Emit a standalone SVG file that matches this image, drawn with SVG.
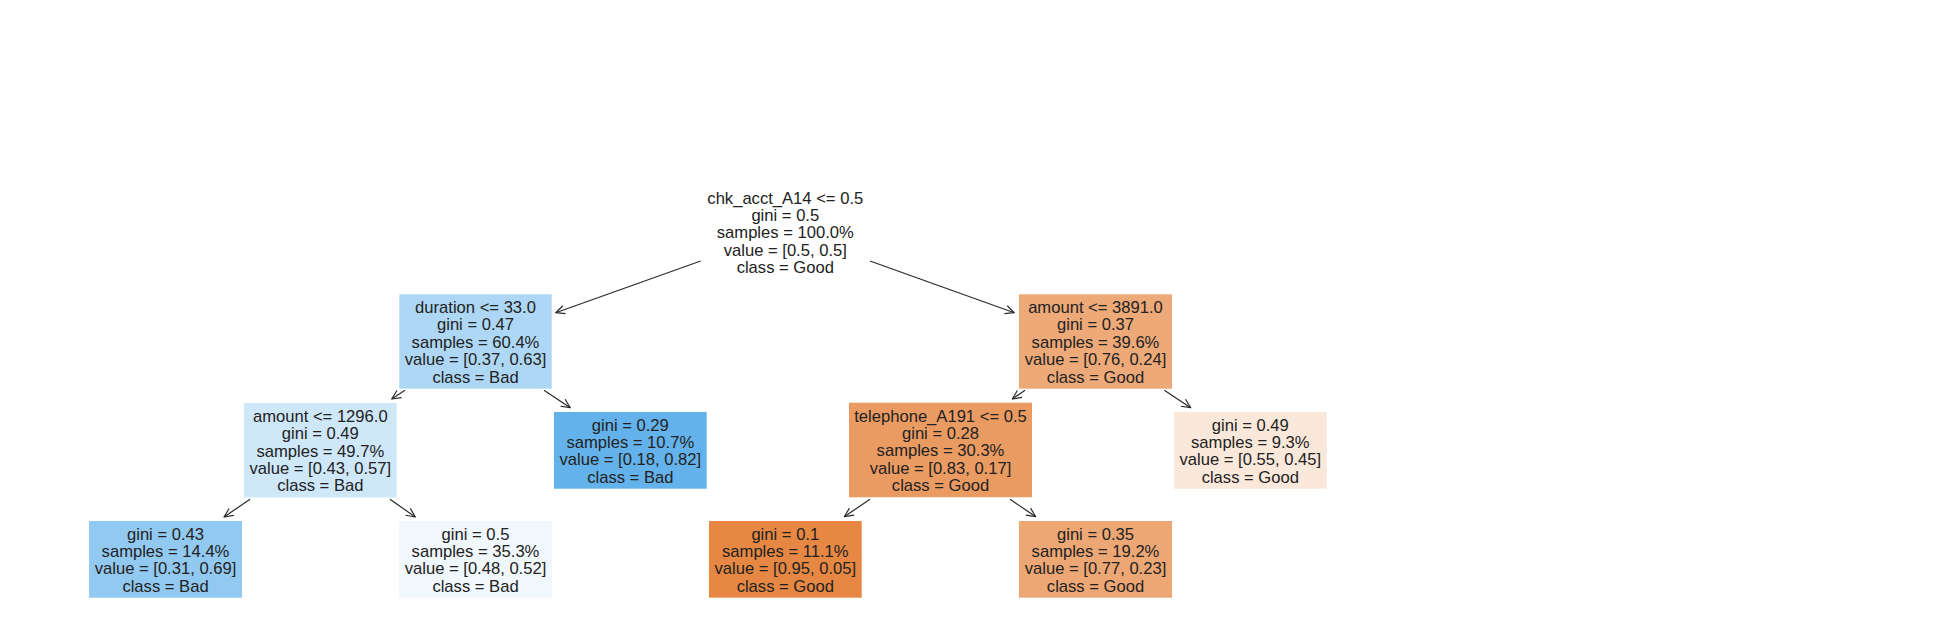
<svg xmlns="http://www.w3.org/2000/svg" width="1957" height="623" viewBox="0 0 1957 623">
<style>
text{font-family:"Liberation Sans",Arial,sans-serif;font-size:16.6px;fill:#222222;text-anchor:middle}
.edge{stroke:#2a2a2a;stroke-width:1.2;fill:none;marker-end:url(#ah)}
</style>
<defs>
<marker id="ah" markerUnits="userSpaceOnUse" markerWidth="14" markerHeight="12" viewBox="-12 -6 14 12" refX="0" refY="0" orient="auto">
<path d="M-9,-4.2 L0,0 L-9,4.2" fill="none" stroke="#2a2a2a" stroke-width="1.2" stroke-linejoin="round"/>
</marker>
</defs>
<rect width="1957" height="623" fill="#ffffff"/>
<g id="connectors">
<line class="edge" x1="700.7" y1="261" x2="555.7" y2="312.7"/>
<line class="edge" x1="870" y1="261" x2="1014.3" y2="312.7"/>
<line class="edge" x1="405" y1="390.3" x2="391.7" y2="399"/>
<line class="edge" x1="544" y1="390.3" x2="570.3" y2="407.7"/>
<line class="edge" x1="250" y1="499.3" x2="224" y2="517"/>
<line class="edge" x1="390" y1="499.3" x2="415.3" y2="517"/>
<line class="edge" x1="1025" y1="390.3" x2="1012.3" y2="399"/>
<line class="edge" x1="1164.3" y1="390.3" x2="1190.7" y2="407.7"/>
<line class="edge" x1="870" y1="499.3" x2="844.3" y2="516.7"/>
<line class="edge" x1="1010" y1="499.3" x2="1035.7" y2="516.7"/>
</g>
<g id="root">
<rect x="709" y="185" width="152.5" height="94.4" fill="#ffffff"/>
<text x="785.3" y="203.5">chk_acct_A14 &lt;= 0.5</text>
<text x="785.3" y="220.9">gini = 0.5</text>
<text x="785.3" y="238.3">samples = 100.0%</text>
<text x="785.3" y="255.7">value = [0.5, 0.5]</text>
<text x="785.3" y="273.1">class = Good</text>
</g>
<g id="duration">
<rect x="399.3" y="294.3" width="152.4" height="94.4" fill="#add7f4"/>
<text x="475.5" y="313">duration &lt;= 33.0</text>
<text x="475.5" y="330.4">gini = 0.47</text>
<text x="475.5" y="347.8">samples = 60.4%</text>
<text x="475.5" y="365.2">value = [0.37, 0.63]</text>
<text x="475.5" y="382.6">class = Bad</text>
</g>
<g id="amount3891">
<rect x="1019" y="294.3" width="153" height="94.4" fill="#eda978"/>
<text x="1095.5" y="313">amount &lt;= 3891.0</text>
<text x="1095.5" y="330.4">gini = 0.37</text>
<text x="1095.5" y="347.8">samples = 39.6%</text>
<text x="1095.5" y="365.2">value = [0.76, 0.24]</text>
<text x="1095.5" y="382.6">class = Good</text>
</g>
<g id="amount1296">
<rect x="244" y="403" width="152.7" height="94.5" fill="#cee7f9"/>
<text x="320.3" y="421.8">amount &lt;= 1296.0</text>
<text x="320.3" y="439.2">gini = 0.49</text>
<text x="320.3" y="456.6">samples = 49.7%</text>
<text x="320.3" y="474">value = [0.43, 0.57]</text>
<text x="320.3" y="491.4">class = Bad</text>
</g>
<g id="leaf029">
<rect x="554" y="412" width="152.7" height="76.7" fill="#64b2eb"/>
<text x="630.3" y="430.6">gini = 0.29</text>
<text x="630.3" y="448">samples = 10.7%</text>
<text x="630.3" y="465.4">value = [0.18, 0.82]</text>
<text x="630.3" y="482.8">class = Bad</text>
</g>
<g id="telephone">
<rect x="849" y="402.7" width="183" height="94.6" fill="#ea9b62"/>
<text x="940.5" y="421.6">telephone_A191 &lt;= 0.5</text>
<text x="940.5" y="439">gini = 0.28</text>
<text x="940.5" y="456.4">samples = 30.3%</text>
<text x="940.5" y="473.8">value = [0.83, 0.17]</text>
<text x="940.5" y="491.2">class = Good</text>
</g>
<g id="leaf049">
<rect x="1174" y="412" width="152.7" height="76.7" fill="#fae8db"/>
<text x="1250.3" y="430.6">gini = 0.49</text>
<text x="1250.3" y="448">samples = 9.3%</text>
<text x="1250.3" y="465.4">value = [0.55, 0.45]</text>
<text x="1250.3" y="482.8">class = Good</text>
</g>
<g id="leaf043">
<rect x="89" y="521" width="153" height="76.7" fill="#92c9f1"/>
<text x="165.5" y="539.6">gini = 0.43</text>
<text x="165.5" y="557">samples = 14.4%</text>
<text x="165.5" y="574.4">value = [0.31, 0.69]</text>
<text x="165.5" y="591.8">class = Bad</text>
</g>
<g id="leaf05">
<rect x="399" y="521" width="153" height="76.7" fill="#f0f7fd"/>
<text x="475.5" y="539.6">gini = 0.5</text>
<text x="475.5" y="557">samples = 35.3%</text>
<text x="475.5" y="574.4">value = [0.48, 0.52]</text>
<text x="475.5" y="591.8">class = Bad</text>
</g>
<g id="leaf01">
<rect x="709" y="521" width="152.7" height="76.7" fill="#e68843"/>
<text x="785.3" y="539.6">gini = 0.1</text>
<text x="785.3" y="557">samples = 11.1%</text>
<text x="785.3" y="574.4">value = [0.95, 0.05]</text>
<text x="785.3" y="591.8">class = Good</text>
</g>
<g id="leaf035">
<rect x="1019" y="521" width="153" height="76.7" fill="#eda774"/>
<text x="1095.5" y="539.6">gini = 0.35</text>
<text x="1095.5" y="557">samples = 19.2%</text>
<text x="1095.5" y="574.4">value = [0.77, 0.23]</text>
<text x="1095.5" y="591.8">class = Good</text>
</g>
</svg>
